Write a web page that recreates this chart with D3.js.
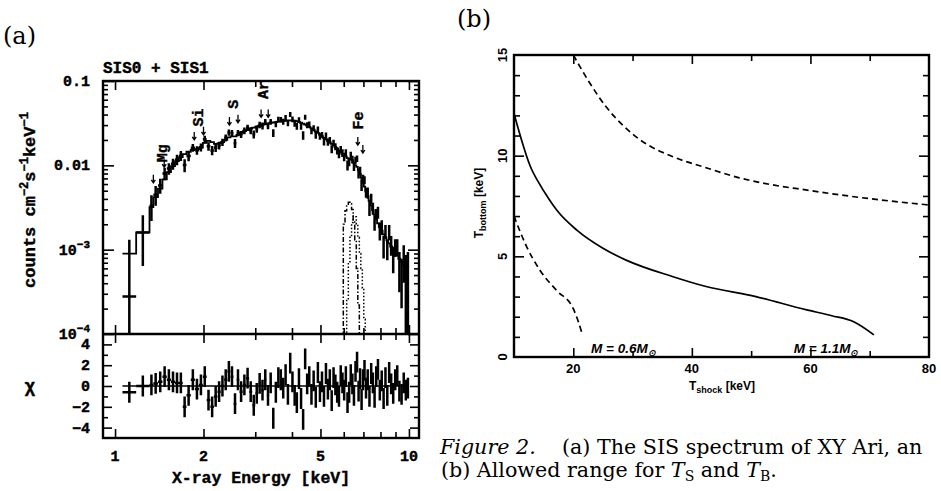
<!DOCTYPE html>
<html>
<head>
<meta charset="utf-8">
<script src="https://cdn.jsdelivr.net/npm/d3@7"></script>
<style>
body { margin: 0; background: #fff; }
svg { display: block; }
.mono { font-family: "Liberation Mono", monospace; font-weight: bold; stroke: #000; stroke-width: 0.4px; }
.sans { font-family: "Liberation Sans", Arial, sans-serif; font-weight: bold; }
.serif { font-family: "DejaVu Serif", serif; }
</style>
</head>
<body>
<script>
// ---------- panel (a): SIS spectrum ----------
// energy bin edges [keV]
var binEdges = [1.06,1.18,1.31,1.35,1.40,1.45,1.50,1.55,1.60,1.65,1.70,1.75,1.81,1.87,1.93,1.99,2.05,2.11,2.17,2.23,
  2.29,2.35,2.41,2.47,2.53,2.59,2.65,2.72,2.79,2.86,2.93,3.00,3.07,3.14,3.21,3.28,3.35,3.42,3.49,3.56,
  3.63,3.70,3.77,3.84,3.91,3.98,4.05,4.12,4.19,4.26,4.33,4.40,4.47,4.54,4.62,4.70,4.78,4.86,4.94,5.02,
  5.10,5.18,5.26,5.34,5.42,5.50,5.58,5.66,5.74,5.82,5.90,5.98,6.06,6.14,6.22,6.30,6.38,6.46,6.54,6.62,
  6.70,6.78,6.86,6.94,7.02,7.10,7.19,7.29,7.39,7.49,7.59,7.69,7.79,7.90,8.02,8.14,8.26,8.38,8.50,8.63,
  8.77,8.91,9.05,9.20,9.36,9.52,9.68,9.84,10.00];

// model (counts cm-2 s-1 keV-1), one per bin
var modelFlux = [9.0e-4,1.6e-3,3.2e-3,4.2e-3,5.3e-3,6.8e-3,8.3e-3,9.8e-3,1.12e-2,1.25e-2,
  1.36e-2,1.45e-2,1.52e-2,1.56e-2,1.62e-2,1.85e-2,1.95e-2,1.88e-2,1.80e-2,1.82e-2,
  1.88e-2,2.00e-2,2.15e-2,2.20e-2,2.20e-2,2.30e-2,2.45e-2,2.55e-2,2.62e-2,2.72e-2,
  2.80e-2,2.88e-2,2.95e-2,3.05e-2,3.10e-2,3.15e-2,3.20e-2,3.22e-2,3.25e-2,3.30e-2,
  3.32e-2,3.35e-2,3.38e-2,3.40e-2,3.42e-2,3.40e-2,3.38e-2,3.33e-2,3.28e-2,3.20e-2,
  3.12e-2,3.05e-2,2.95e-2,2.85e-2,2.75e-2,2.65e-2,2.52e-2,2.42e-2,2.32e-2,2.22e-2,
  2.12e-2,2.03e-2,1.95e-2,1.88e-2,1.80e-2,1.72e-2,1.65e-2,1.58e-2,1.50e-2,1.42e-2,
  1.36e-2,1.32e-2,1.28e-2,1.22e-2,1.18e-2,1.18e-2,1.15e-2,1.08e-2,1.00e-2,9.6e-3,
  8.7e-3,7.9e-3,7.1e-3,6.4e-3,5.6e-3,4.9e-3,4.3e-3,3.8e-3,3.35e-3,2.95e-3,
  2.6e-3,2.3e-3,2.05e-3,1.85e-3,1.68e-3,1.52e-3,1.40e-3,1.29e-3,1.19e-3,1.09e-3,
  1.0e-3,9.2e-4,8.5e-4,7.8e-4,7.2e-4,6.6e-4,6.1e-4,5.6e-4];

// residuals (chi), one per bin
var chiValues = [-0.6,0.0,0.1,0.25,0.4,0.9,0.6,0.4,0.3,0.3,
  -2.0,-0.9,0.6,-0.3,0.1,0.9,-1.35,-2.0,-1.0,-0.55,
  0.0,0.6,1.4,0.9,-1.7,0.6,-0.55,0.1,0.75,-0.55,
  -1.85,-0.7,0.25,-0.4,0.6,-0.9,0.3,-3.1,-0.6,0.8,
  0.6,-0.2,1.1,-0.8,2.2,0.4,-0.9,-1.6,0.7,-1.2,
  -3.2,2.6,0.2,0.9,-0.8,0.5,-1.1,1.3,-0.55,0.4,
  -1.0,1.2,-0.3,0.6,-1.4,0.8,0.1,-0.6,-1.0,1.0,
  0.3,-0.4,0.9,-1.6,-0.6,1.1,0.2,-0.9,1.4,2.3,
  -0.5,0.7,-1.3,0.6,1.5,-0.2,0.6,-1.0,1.2,0.3,
  -1.1,0.9,1.6,-0.4,0.5,-1.2,0.8,-0.9,1.3,0.2,
  -0.7,0.6,1.0,-0.5,-0.8,0.3,-0.4,-0.2];

// relative 1-sigma error of each bin
var relErr = [1.15,0.6,0.35,0.28,0.22,0.2,0.17,0.16,0.15,0.14,
  0.13,0.12,0.11,0.11,0.11,0.11,0.10,0.10,0.10,0.10,
  0.10,0.10,0.10,0.10,0.10,0.09,0.09,0.09,0.09,0.09,
  0.09,0.09,0.09,0.09,0.09,0.08,0.08,0.08,0.08,0.08,
  0.08,0.08,0.08,0.08,0.08,0.08,0.08,0.08,0.08,0.08,
  0.085,0.085,0.085,0.085,0.085,0.085,0.085,0.085,0.085,0.085,
  0.095,0.095,0.095,0.095,0.095,0.095,0.095,0.095,0.095,0.095,
  0.11,0.11,0.11,0.11,0.11,0.11,0.11,0.11,0.11,0.11,
  0.13,0.13,0.13,0.13,0.13,0.13,0.17,0.17,0.17,0.17,
  0.17,0.17,0.22,0.22,0.22,0.22,0.22,0.22,0.28,0.28,
  0.28,0.28,0.28,0.4,0.4,0.55,0.7,0.85];

// Fe line components
var feEdges = [5.90,5.98,6.06,6.14,6.22,6.30,6.38,6.46,6.54,6.62,6.70,6.78,6.86,6.94,7.02,7.10,7.19];
var feDashDot = [5e-5,2.0e-3,2.9e-3,3.3e-3,3.65e-3,3.5e-3,3.0e-3,2.2e-3,1.3e-3,6e-4,2.2e-4,9e-5,5e-5,5e-5,5e-5,5e-5];
var feDotted  = [5e-5,5e-5,8e-5,2.5e-4,7e-4,1.4e-3,2.1e-3,2.5e-3,2.45e-3,2.0e-3,1.4e-3,9e-4,6e-4,3.5e-4,1.5e-4,6e-5];

// emission line markers
var lineNames = ["Mg", "Si", "S", "Ar", "Fe"];
var lineEnergies = [[1.35, 1.47], [1.86, 2.00], [2.45, 2.62], [3.14, 3.32], [6.70, 6.97]];
var arrowTips = [[6.2e-3, 9.5e-3], [2.0e-2, 2.3e-2], [3.0e-2, 3.2e-2], [3.7e-2, 3.7e-2], [1.74e-2, 1.4e-2]];
var labelEnergy = [1.45, 1.92, 2.52, 3.18, 6.70];
var labelFlux = [1.39e-2, 3.7e-2, 5.3e-2, 7.8e-2, 3.4e-2];

var energyTicks = [1, 2, 5, 10];
var energyMinor = [3, 4, 6, 7, 8, 9];
var chiTicks = [4, 2, 0, -2, -4];
var chiMinor = [3, 1, -1, -3];

// ---------- panel (b): allowed range ----------
var tShockSolid  = [10, 13, 13.9, 16, 17.2, 20.6, 25, 29, 36.7, 42.4, 50.8, 59.2, 63.6, 67.3, 70.7];
var tBottomSolid = [12.1, 9.3, 8.8, 7.8, 7.3, 6.3, 5.4, 4.8, 4.0, 3.5, 3.0, 2.35, 2.05, 1.75, 1.1];
var tShockUpper  = [20, 22.8, 25.6, 28.4, 31.2, 36.8, 42.4, 48, 53.6, 59.2, 64.8, 70.4, 80];
var tBottomUpper = [15.0, 13.6, 12.4, 11.5, 10.8, 9.95, 9.4, 8.9, 8.55, 8.3, 8.06, 7.85, 7.55];
var tShockLower  = [10, 12.1, 14.4, 17.2, 20, 20.8, 21.55];
var tBottomLower = [7.0, 5.5, 4.3, 3.3, 2.4, 1.8, 1.1];
var tShockTicks = [20, 40, 60, 80];
var tBottomTicks = [0, 5, 10, 15];

var w = 941, h = 491;
var svg = d3.select("body").append("svg").attr("width", w).attr("height", h);
svg.append("rect").attr("width", w).attr("height", h).attr("fill", "#fff");

// scales
var xA = d3.scaleLog().domain([0.91, 10.82]).range([103, 419]);
var yA = d3.scaleLog().domain([1e-4, 0.1]).range([334, 81]);
var yR = d3.scaleLinear().domain([-5, 5]).range([438, 334]);
var xB = d3.scaleLinear().domain([10, 80]).range([514, 929]);
var yB = d3.scaleLinear().domain([0, 15]).range([357, 55]);

function tickAxis(axisFn, scale, vals, size, tx, ty) {
  svg.append("g").attr("transform", "translate(" + tx + "," + ty + ")")
    .call(axisFn(scale).tickValues(vals).tickSize(size).tickFormat(""))
    .call(function(g) {
      g.select(".domain").remove();
      g.selectAll("line").attr("stroke-width", 1.6);
    });
}

// ---- panel (a) ----
svg.append("clipPath").attr("id", "clipA").append("rect")
  .attr("x", 103).attr("y", 81).attr("width", 316).attr("height", 253);
svg.append("clipPath").attr("id", "clipR").append("rect")
  .attr("x", 103).attr("y", 334).attr("width", 316).attr("height", 104);

var bins = modelFlux.map(function(m, i) {
  var err = m * relErr[i];
  return { e0: binEdges[i], e1: binEdges[i + 1], c: Math.sqrt(binEdges[i] * binEdges[i + 1]),
           model: m, err: err, data: m + chiValues[i] * err, chi: chiValues[i] };
});

var gA = svg.append("g").attr("clip-path", "url(#clipA)");

// model histogram
var stepPts = bins.map(function(b) { return [b.e0, b.model]; });
stepPts.push([binEdges[binEdges.length - 1], modelFlux[modelFlux.length - 1]]);
gA.append("path")
  .attr("d", d3.line().x(function(d) { return xA(d[0]); }).y(function(d) { return yA(d[1]); })
    .curve(d3.curveStepAfter)(stepPts))
  .attr("fill", "none").attr("stroke", "#000").attr("stroke-width", 1.8);

// data crosses
gA.selectAll("path.pt").data(bins).enter().append("path").attr("class", "pt")
  .attr("d", function(b) {
    var lo = Math.max(b.data - b.err, 1e-6);
    return "M" + xA(b.e0) + "," + yA(b.data) + "H" + xA(b.e1) +
           "M" + xA(b.c) + "," + yA(lo) + "V" + yA(b.data + b.err);
  })
  .attr("fill", "none").attr("stroke", "#000").attr("stroke-width", 2.5);

// Fe line components
function feLine(vals, dash) {
  var pts = vals.map(function(v, i) { return [feEdges[i], v]; });
  pts.push([feEdges[feEdges.length - 1], 1e-6]);
  pts.unshift([feEdges[0], 1e-6]);
  gA.append("path")
    .attr("d", d3.line().x(function(d) { return xA(d[0]); }).y(function(d) { return yA(d[1]); })
      .curve(d3.curveStepAfter)(pts))
    .attr("fill", "none").attr("stroke", "#000").attr("stroke-width", 1.5)
    .attr("stroke-dasharray", dash);
}
feLine(feDashDot, "5,2,1.5,2");
feLine(feDotted, "1.5,2");

// line arrows and labels
lineNames.forEach(function(name, k) {
  lineEnergies[k].forEach(function(e, j) {
    var x = xA(e), y = yA(arrowTips[k][j]);
    svg.append("path")
      .attr("d", "M" + x + "," + (y - 8) + "V" + y + "M" + (x - 2) + "," + (y - 3) + "L" + x + "," + y + "L" + (x + 2) + "," + (y - 3))
      .attr("fill", "none").attr("stroke", "#000").attr("stroke-width", 1.3);
  });
  var lx = xA(labelEnergy[k]), ly = yA(labelFlux[k]);
  svg.append("text").attr("class", "mono")
    .attr("transform", "translate(" + (lx + 5) + "," + ly + ") rotate(-90)")
    .attr("text-anchor", "middle").attr("font-size", 15).text(name);
});

// residuals
var gR = svg.append("g").attr("clip-path", "url(#clipR)");
gR.append("line").attr("x1", xA(binEdges[0])).attr("x2", xA(binEdges[binEdges.length - 1]))
  .attr("y1", yR(0)).attr("y2", yR(0)).attr("stroke", "#000").attr("stroke-width", 1.5);
gR.selectAll("path.rs").data(bins).enter().append("path").attr("class", "rs")
  .attr("d", function(b) {
    return "M" + xA(b.e0) + "," + yR(b.chi) + "H" + xA(b.e1) +
           "M" + xA(b.c) + "," + yR(b.chi - 1) + "V" + yR(b.chi + 1);
  })
  .attr("fill", "none").attr("stroke", "#000").attr("stroke-width", 2.5);

// ticks panel (a)
var decades = [1e-4, 1e-3, 1e-2, 1e-1];
var logMinor = [];
[1e-4, 1e-3, 1e-2].forEach(function(d) { for (var m = 2; m < 10; m++) logMinor.push(d * m); });
tickAxis(d3.axisLeft, yA, decades, -11, 103, 0);
tickAxis(d3.axisLeft, yA, logMinor, -5, 103, 0);
tickAxis(d3.axisRight, yA, decades, -11, 419, 0);
tickAxis(d3.axisRight, yA, logMinor, -5, 419, 0);
tickAxis(d3.axisLeft, yR, chiTicks, -9, 103, 0);
tickAxis(d3.axisLeft, yR, chiMinor, -5, 103, 0);
tickAxis(d3.axisRight, yR, chiTicks, -9, 419, 0);
tickAxis(d3.axisRight, yR, chiMinor, -5, 419, 0);
[[d3.axisTop, 81], [d3.axisBottom, 334], [d3.axisTop, 334], [d3.axisBottom, 438]].forEach(function(a) {
  tickAxis(a[0], xA, energyTicks, -9, 0, a[1]);
  tickAxis(a[0], xA, energyMinor, -6, 0, a[1]);
});

// frame
svg.append("rect").attr("x", 103).attr("y", 81).attr("width", 316).attr("height", 357)
  .attr("fill", "none").attr("stroke", "#000").attr("stroke-width", 2.4);
svg.append("line").attr("x1", 103).attr("x2", 419).attr("y1", 334).attr("y2", 334)
  .attr("stroke", "#000").attr("stroke-width", 2.4);

// tick labels panel (a)
var yLab = [["0.1", null], ["0.01", null], ["10", "\u22123"], ["10", "\u22124"]];
decades.slice().reverse().forEach(function(d, i) {
  var t = svg.append("text").attr("class", "mono").attr("font-size", 15)
    .attr("x", 90).attr("y", yA(d) + 5).attr("text-anchor", "end");
  t.append("tspan").text(yLab[i][0]);
  if (yLab[i][1]) t.append("tspan").attr("font-size", 11).attr("dy", -7).text(yLab[i][1]);
});
chiTicks.forEach(function(v) {
  svg.append("text").attr("class", "mono").attr("font-size", 15)
    .attr("x", 90).attr("y", yR(v) + 5).attr("text-anchor", "end")
    .text(v < 0 ? "\u2212" + (-v) : String(v));
});
energyTicks.forEach(function(v) {
  svg.append("text").attr("class", "mono").attr("font-size", 15)
    .attr("x", xA(v)).attr("y", 461).attr("text-anchor", "middle").text(String(v));
});
svg.append("text").attr("class", "mono").attr("font-size", 16.5)
  .attr("x", 261).attr("y", 483).attr("text-anchor", "middle").text("X-ray Energy [keV]");
svg.append("text").attr("class", "mono").attr("font-size", 16)
  .attr("x", 103).attr("y", 73).text("SIS0 + SIS1");
var yl = svg.append("text").attr("class", "mono").attr("font-size", 17)
  .attr("transform", "translate(35,200) rotate(-90)").attr("text-anchor", "middle");
yl.append("tspan").text("counts cm");
yl.append("tspan").attr("font-size", 12).attr("dy", -7).text("\u22122");
yl.append("tspan").attr("dy", 7).text("s");
yl.append("tspan").attr("font-size", 12).attr("dy", -7).text("\u22121");
yl.append("tspan").attr("dy", 7).text("keV");
yl.append("tspan").attr("font-size", 12).attr("dy", -7).text("\u22121");
svg.append("text").attr("class", "mono").attr("font-size", 18)
  .attr("x", 30).attr("y", 392).attr("text-anchor", "middle").text("\u03c7");
svg.append("text").attr("class", "serif").attr("font-size", 24)
  .attr("x", 3).attr("y", 44).text("(a)");

// ---- panel (b) ----
var lineB = d3.line().x(function(d) { return xB(d[0]); }).y(function(d) { return yB(d[1]); })
  .curve(d3.curveMonotoneX);
function curveB(xs, ys, dash) {
  var p = svg.append("path").attr("d", lineB(xs.map(function(x, i) { return [x, ys[i]]; })))
    .attr("fill", "none").attr("stroke", "#000").attr("stroke-width", 1.7);
  if (dash) p.attr("stroke-dasharray", dash);
}
curveB(tShockSolid, tBottomSolid, null);
curveB(tShockUpper, tBottomUpper, "6,4");
curveB(tShockLower, tBottomLower, "6,4");

tickAxis(d3.axisBottom, xB, [20, 40, 60], -9, 0, 357);
tickAxis(d3.axisBottom, xB, [30, 50, 70], -6, 0, 357);
tickAxis(d3.axisTop, xB, [20, 40, 60], -9, 0, 55);
tickAxis(d3.axisTop, xB, [30, 50, 70], -6, 0, 55);
var bMinor = [];
for (var v = 1; v < 15; v++) if (v % 5) bMinor.push(v);
tickAxis(d3.axisLeft, yB, [5, 10], -10, 514, 0);
tickAxis(d3.axisLeft, yB, bMinor, -6, 514, 0);
tickAxis(d3.axisRight, yB, [5, 10], -10, 929, 0);
tickAxis(d3.axisRight, yB, bMinor, -6, 929, 0);
svg.append("rect").attr("x", 514).attr("y", 55).attr("width", 415).attr("height", 302)
  .attr("fill", "none").attr("stroke", "#000").attr("stroke-width", 2.4);

tShockTicks.forEach(function(v) {
  svg.append("text").attr("class", "sans").attr("font-size", 13)
    .attr("x", xB(v)).attr("y", 373).attr("text-anchor", "middle").text(String(v));
});
tBottomTicks.forEach(function(v) {
  svg.append("text").attr("class", "sans").attr("font-size", 13)
    .attr("transform", "translate(507," + yB(v) + ") rotate(-90)")
    .attr("text-anchor", "middle").text(String(v));
});
var xl = svg.append("text").attr("class", "sans").attr("font-size", 12)
  .attr("x", 722).attr("y", 390).attr("text-anchor", "middle");
xl.append("tspan").text("T");
xl.append("tspan").attr("font-size", 9).attr("dy", 3).text("shock");
xl.append("tspan").attr("dy", -3).text(" [keV]");
var ylb = svg.append("text").attr("class", "sans").attr("font-size", 12)
  .attr("transform", "translate(483,203) rotate(-90)").attr("text-anchor", "middle");
ylb.append("tspan").text("T");
ylb.append("tspan").attr("font-size", 9).attr("dy", 3).text("bottom");
ylb.append("tspan").attr("dy", -3).text(" [keV]");

function massLabel(t, val) {
  var tx = svg.append("text").attr("class", "sans").attr("font-size", 13.5).attr("font-style", "italic")
    .attr("x", xB(t)).attr("y", yB(0.2));
  tx.append("tspan").text("M = " + val + "M");
  tx.append("tspan").attr("font-size", 9).attr("dy", 3).text("\u2299");
}
massLabel(23.0, "0.6");
massLabel(57.2, "1.1");
svg.append("text").attr("class", "serif").attr("font-size", 24)
  .attr("x", 457).attr("y", 27).text("(b)");

// caption
var c1 = svg.append("text").attr("class", "serif").attr("x", 440).attr("y", 454);
c1.append("tspan").attr("font-style", "italic").text("Figure 2.");
c1.append("tspan").attr("x", 562).text("(a) The SIS spectrum of XY Ari, an");
var c2 = svg.append("text").attr("class", "serif").attr("x", 441).attr("y", 477);
c2.append("tspan").text("(b) Allowed range for ");
c2.append("tspan").attr("font-style", "italic").text("T");
c2.append("tspan").attr("font-size", "0.68em").attr("dy", 4).text("S");
c2.append("tspan").attr("dy", -4).text(" and ");
c2.append("tspan").attr("font-style", "italic").text("T");
c2.append("tspan").attr("font-size", "0.68em").attr("dy", 4).text("B");
c2.append("tspan").attr("dy", -4).text(".");
// fit caption size to the printed line width
c2.attr("font-size", 20);
var fs = 20 * 336 / c2.node().getComputedTextLength();
c1.attr("font-size", fs);
c2.attr("font-size", fs);
</script>
</body>
</html>
